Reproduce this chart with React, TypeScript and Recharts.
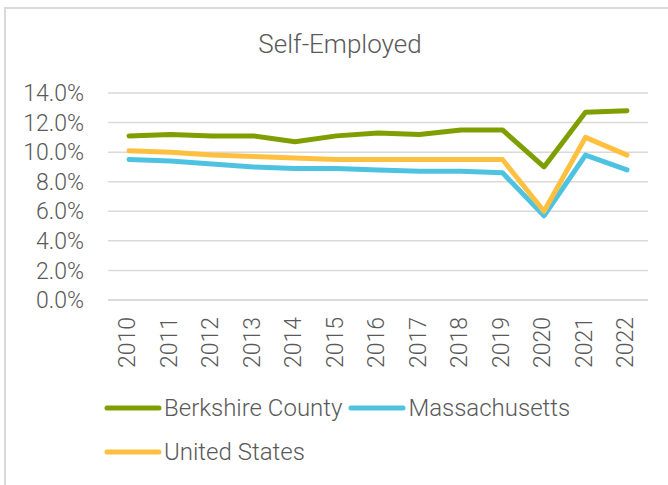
import React from 'react';
import { LineChart, Line, XAxis, YAxis, CartesianGrid, Legend } from 'recharts';

// Self-Employed share, percent
const years = ['2010', '2011', '2012', '2013', '2014', '2015', '2016', '2017', '2018', '2019', '2020', '2021', '2022'];
const berkshire = [11.1, 11.2, 11.1, 11.1, 10.7, 11.1, 11.3, 11.2, 11.5, 11.5, 9.0, 12.7, 12.8];
const massachusetts = [9.5, 9.4, 9.2, 9.0, 8.9, 8.9, 8.8, 8.7, 8.7, 8.6, 5.7, 9.8, 8.8];
const unitedStates = [10.1, 10.0, 9.8, 9.7, 9.6, 9.5, 9.5, 9.5, 9.5, 9.5, 6.0, 11.0, 9.8];
const yTicks = [0, 2, 4, 6, 8, 10, 12, 14];

const seriesList = [
  { key: 'berkshire', name: 'Berkshire County', color: '#7F9F00' },
  { key: 'massachusetts', name: 'Massachusetts', color: '#4EC3E1' },
  { key: 'us', name: 'United States', color: '#FFC03F' },
];

const data = years.map((year, i) => ({
  year,
  berkshire: berkshire[i],
  massachusetts: massachusetts[i],
  us: unitedStates[i],
}));

const FONT = 'Roboto, "Noto Sans", sans-serif';
const TEXT = '#595959';
const GRID = '#D9D9D9';

const YearTick = ({ x, y, payload }: any) => (
  <g transform={`translate(${x - 2},${y})`}>
    <text
      transform="rotate(-90)"
      x={-9}
      y={0}
      dy="0.355em"
      textAnchor="end"
      fill={TEXT}
      fontSize={23}
      fontWeight={300}
      fontFamily={FONT}
    >
      {payload.value}
    </text>
  </g>
);

const LegendBox = () => (
  <div style={{ position: 'relative', width: 668, height: 88 }}>
    <div
      style={{
        position: 'absolute',
        left: 104,
        top: 0,
        width: 480,
        display: 'flex',
        flexWrap: 'wrap',
        columnGap: 6,
      }}
    >
      {seriesList.map((s) => (
        <div key={s.key} style={{ display: 'flex', alignItems: 'center', height: 44 }}>
          <svg width={58} height={8} style={{ marginRight: 2 }}>
            <line x1={3} y1={4} x2={55} y2={4} stroke={s.color} strokeWidth={5} strokeLinecap="round" />
          </svg>
          <span style={{ fontFamily: FONT, fontWeight: 300, fontSize: 24, color: TEXT, lineHeight: '44px' }}>
            {s.name}
          </span>
        </div>
      ))}
    </div>
  </div>
);

export default function App() {
  return (
    <div style={{ position: 'absolute', left: 0, top: 0, width: 668, height: 485, overflow: 'hidden', background: '#fff' }}>
      <div
        style={{
          position: 'absolute',
          left: 4,
          top: 7,
          width: 700,
          height: 520,
          border: `2px solid ${GRID}`,
          boxSizing: 'border-box',
        }}
      />
      <div
        style={{
          position: 'absolute',
          left: 0,
          width: 680,
          top: 27,
          textAlign: 'center',
          fontFamily: FONT,
          fontWeight: 300,
          fontSize: 26,
          lineHeight: '34px',
          color: TEXT,
        }}
      >
        Self-Employed
      </div>
      <div style={{ position: 'absolute', left: 0, top: 0 }}>
        <LineChart width={668} height={485} data={data} margin={{ top: 93, right: 20, bottom: 0, left: 0 }}>
          <CartesianGrid vertical={false} stroke={GRID} strokeWidth={1.5} />
          <XAxis
            dataKey="year"
            height={97}
            interval={0}
            padding={{ left: 21, right: 21 }}
            tickLine={false}
            axisLine={{ stroke: GRID, strokeWidth: 1.5 }}
            tick={<YearTick />}
          />
          <YAxis
            width={108}
            domain={[0, 14]}
            ticks={yTicks}
            interval={0}
            axisLine={false}
            tickLine={false}
            tickMargin={18}
            tickFormatter={(v: number) => `${v.toFixed(1)}%`}
            tick={{ fill: TEXT, fontSize: 23, fontWeight: 300, fontFamily: FONT }}
          />
          <Legend
            verticalAlign="bottom"
            content={<LegendBox />}
            wrapperStyle={{ top: 386, left: 0, width: 668, height: 88 }}
          />
          {seriesList.map((s) => (
            <Line
              key={s.key}
              dataKey={s.key}
              name={s.name}
              type="linear"
              stroke={s.color}
              strokeWidth={5}
              strokeLinecap="round"
              strokeLinejoin="round"
              dot={false}
              activeDot={false}
              isAnimationActive={false}
            />
          ))}
        </LineChart>
      </div>
    </div>
  );
}
